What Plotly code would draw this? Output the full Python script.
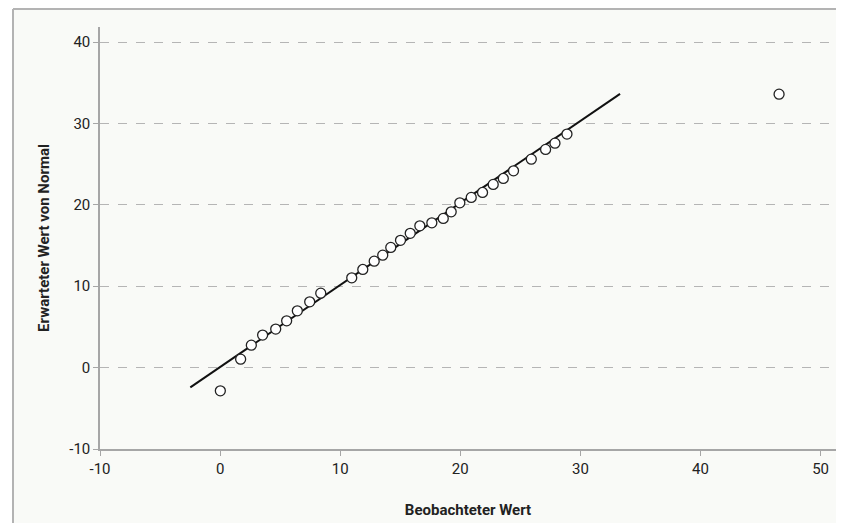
import plotly.graph_objects as go

# Observed values (x) and expected normal values (y)
observed = [0.02, 1.71, 2.60, 3.54, 4.63, 5.54, 6.43, 7.46, 8.38, 10.96,
            11.88, 12.83, 13.54, 14.21, 15.02, 15.83, 16.63, 17.63, 18.58, 19.24,
            19.96, 20.91, 21.85, 22.74, 23.58, 24.43, 25.91, 27.10, 27.88, 28.88,
            46.54]
expected = [-2.85, 1.04, 2.76, 4.00, 4.73, 5.75, 6.98, 8.08, 9.15, 11.03,
            12.06, 13.08, 13.82, 14.77, 15.64, 16.50, 17.42, 17.79, 18.33, 19.14,
            20.25, 20.91, 21.52, 22.51, 23.24, 24.18, 25.61, 26.81, 27.58, 28.69,
            33.60]

# Reference line endpoints
line_x = [-2.48, 33.30]
line_y = [-2.43, 33.64]

x_ticks = [-10, 0, 10, 20, 30, 40, 50]
x_labels = ["-10", "0", "10", "20", "30", "40", "50"]
y_ticks = [-10, 0, 10, 20, 30, 40]
y_labels = ["-10", "0", "10", "20", "30", "40"]

BG = "#f9faf7"
FONT = "Roboto"
BORDER = "#b3b3b3"

fig = go.Figure()
fig.add_trace(go.Scatter(x=line_x, y=line_y, mode="lines",
                         line=dict(color="#111111", width=2), hoverinfo="skip",
                         showlegend=False))
fig.add_trace(go.Scatter(x=observed, y=expected, mode="markers",
                         marker=dict(size=10, color="white",
                                     line=dict(color="#222222", width=1.3)),
                         showlegend=False))

# outer frame: off-white panel with grey top and left border
X0 = -87 / 736
Y1 = 1 + 18 / 422
fig.add_shape(type="rect", xref="paper", yref="paper",
              x0=X0, x1=1.2, y0=-0.3, y1=Y1,
              line=dict(width=0), fillcolor=BG, layer="below")
fig.add_shape(type="line", xref="paper", yref="paper",
              x0=X0, x1=1.2, y0=Y1, y1=Y1,
              line=dict(color=BORDER, width=2), layer="below")
fig.add_shape(type="line", xref="paper", yref="paper",
              x0=X0, x1=X0, y0=-0.3, y1=Y1,
              line=dict(color=BORDER, width=2), layer="below")

fig.update_layout(
    width=828, height=515,
    margin=dict(l=92, r=0, t=19, b=74),
    paper_bgcolor="white", plot_bgcolor=BG,
    font=dict(family=FONT, size=15, color="#222222"),
    xaxis=dict(range=[-10, 51.28], tickvals=x_ticks, ticktext=x_labels,
               showgrid=False, zeroline=False,
               showline=True, linecolor="#a6a6a6", linewidth=1.5,
               ticks="outside", ticklen=5, tickcolor="#a6a6a6",
               title=dict(text="<b>Beobachteter Wert</b>", font=dict(size=15, color="#222222"),
                          standoff=28)),
    yaxis=dict(range=[-10, 41.85], tickvals=y_ticks, ticktext=y_labels,
               showgrid=True, gridcolor="#b5b5b5", griddash="dash", gridwidth=1,
               zeroline=False,
               showline=True, linecolor="#a6a6a6", linewidth=1.5,
               ticks="outside", ticklen=5, tickcolor="#a6a6a6",
               title=dict(text="<b>Erwarteter Wert von Normal</b>", font=dict(size=15, color="#222222"),
                          standoff=16)),
)

fig.write_html("out.html")
